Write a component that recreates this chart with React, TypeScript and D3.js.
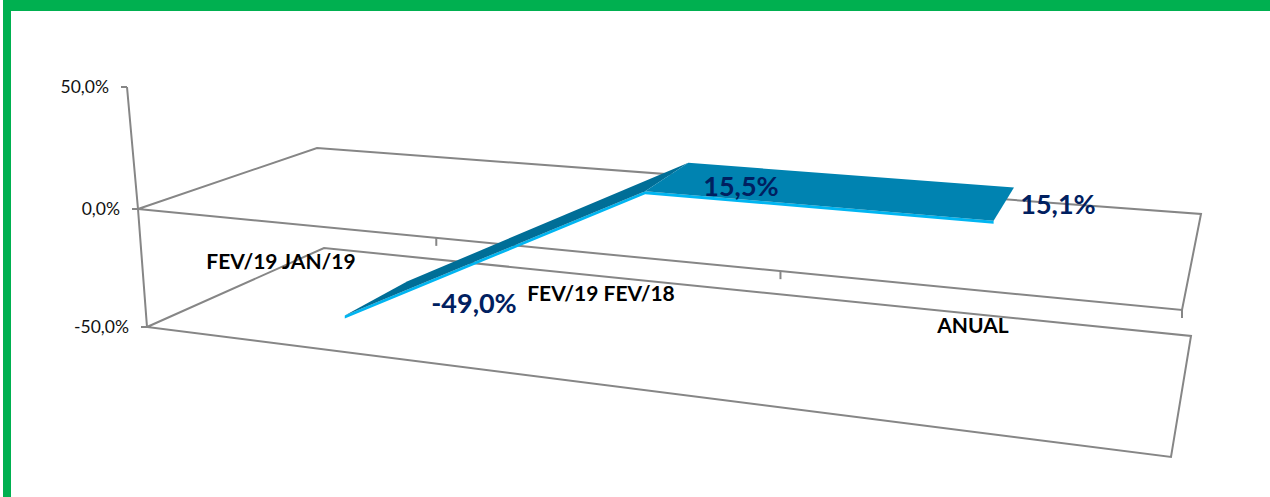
import React, { useEffect } from 'react';
import * as d3 from 'd3';

const categories = ['FEV/19 JAN/19', 'FEV/19 FEV/18', 'ANUAL'];
const values = [-49.0, 15.5, 15.1];
const valueTicks = [50, 0, -50];

const width = 1270;
const height = 497;

type Pt = [number, number];

// corners of the 0% and -50% planes as the 3D view projects them
const plane0 = { fl: [138, 209], fr: [1182, 310], bl: [317, 148], br: [1201, 214] };
const planeLow = { fl: [147, 327], fr: [1171, 457], bl: [324, 248], br: [1191, 336] };
const axisTop: Pt = [127, 87];

// ribbon sits between these two depths of the plot box
const ribbonFront = 0.4;
const ribbonBack = 0.8;
const perspective = 1.25;

const fmt = (v: number) => d3.format('.1f')(v).replace('\u2212', '-').replace('.', ',') + '%';

const mix = (a: number[], b: number[], t: number): Pt => [
  a[0] + (b[0] - a[0]) * t,
  a[1] + (b[1] - a[1]) * t,
];

const planeT = d3.scaleLinear().domain([-50, 0]).range([1, 0]);
// the ribbon does not fall on the same straight value axis in the projection
const ribbonT = d3.scaleLinear().domain([-50, 0, 16]).range([1.06, 0, -0.27]);

const xBand = d3.scaleBand().domain(categories).range([0, 1]);

const persp = (u: number) => u / (u + perspective * (1 - u));

const onPlane = (p: typeof plane0, u: number, depth: number) => {
  const f = persp(u);
  return mix(mix(p.fl, p.fr, f), mix(p.bl, p.br, f), depth);
};

function project(u: number, depth: number, value: number): Pt {
  return mix(onPlane(plane0, u, depth), onPlane(planeLow, u, depth), planeT(value));
}

function ribbonPoint(u: number, depth: number, value: number): Pt {
  const base = onPlane(plane0, u, depth);
  const low = onPlane(planeLow, u, depth);
  return [base[0], base[1] + (low[1] - base[1]) * ribbonT(value)];
}

const labelPos: Pt[] = [
  [474, 306],
  [741, 189],
  [1058, 207],
];
const categoryPos: Pt[] = [
  [281, 264],
  [601, 296],
  [973, 328],
];

export default function App() {
  useEffect(() => {
    const svg = d3.select('#chart').append('svg').attr('width', width).attr('height', height).style('display', 'block');

    svg.append('rect').attr('width', width).attr('height', height).attr('fill', '#fff');
    svg.append('rect').attr('x', 3).attr('width', 8).attr('height', height).attr('fill', '#00B050');
    svg.append('rect').attr('x', 3).attr('width', width - 3).attr('height', 11).attr('fill', '#00B050');

    const line = d3.line<Pt>();
    const frame = svg.append('g').attr('fill', 'none').attr('stroke', '#868686').attr('stroke-width', 2);

    for (const v of [-50, 0]) {
      const box: Pt[] = [
        project(0, 0, v),
        project(0, 1, v),
        project(1, 1, v),
        project(1, 0, v),
      ];
      frame.append('path').attr('d', (line(box) as string) + 'Z');
    }
    // value axis
    frame.append('path').attr('d', line([axisTop, project(0, 0, 0), project(0, 0, -50)]) as string);

    const axisPoint = (v: number): Pt => (v === 50 ? axisTop : project(0, 0, v));
    for (const v of valueTicks) {
      const p = axisPoint(v);
      frame.append('path').attr('d', line([[p[0] - 6, p[1]], p]) as string);
    }
    // category ticks
    categories.forEach((_, i) => {
      const u = (i + 1) / categories.length;
      const p = project(u, 0, 0);
      frame.append('path').attr('d', line([p, [p[0], p[1] + 8]]) as string);
    });

    const ribbon = svg.append('g');
    const uOf = (i: number) => (xBand(categories[i]) as number) + xBand.bandwidth() / 2;
    const front = values.map((v, i) => ribbonPoint(uOf(i), ribbonFront, v));
    const back = values.map((v, i) => ribbonPoint(uOf(i), ribbonBack, v));

    // light underside edge
    const under = front.map((p) => [p[0], p[1] + 3] as Pt);
    ribbon
      .append('path')
      .attr('d', (line([...front, ...under.slice().reverse()]) as string) + 'Z')
      .attr('fill', '#00B5F1');

    const faceColors = ['#006E97', '#0083B1'];
    d3.range(values.length - 1).forEach((i) => {
      ribbon
        .append('path')
        .attr('d', (line([front[i], front[i + 1], back[i + 1], back[i]]) as string) + 'Z')
        .attr('fill', faceColors[i]);
    });

    const font = 'Lato, Carlito, sans-serif';

    svg
      .append('g')
      .selectAll('text')
      .data(valueTicks)
      .enter()
      .append('text')
      .attr('x', (d) => axisPoint(d)[0] - 18)
      .attr('y', (d) => axisPoint(d)[1] + 2)
      .attr('text-anchor', 'end')
      .attr('dominant-baseline', 'middle')
      .attr('font-family', font)
      .attr('font-size', 17.5)
      .attr('fill', '#111')
      .text((d) => fmt(d));

    svg
      .append('g')
      .selectAll('text')
      .data(categories)
      .enter()
      .append('text')
      .attr('x', (_, i) => categoryPos[i][0])
      .attr('y', (_, i) => categoryPos[i][1])
      .attr('text-anchor', 'middle')
      .attr('dominant-baseline', 'middle')
      .attr('font-family', font)
      .attr('font-weight', 700)
      .attr('font-size', 21)
      .attr('fill', '#000')
      .text((d) => d);

    svg
      .append('g')
      .selectAll('text')
      .data(values)
      .enter()
      .append('text')
      .attr('x', (_, i) => labelPos[i][0])
      .attr('y', (_, i) => labelPos[i][1])
      .attr('text-anchor', 'middle')
      .attr('dominant-baseline', 'middle')
      .attr('font-family', font)
      .attr('font-weight', 700)
      .attr('font-size', 27)
      .attr('fill', '#002060')
      .text((d) => fmt(d));
  }, []);

  return <div id="chart" style={{ position: 'absolute', left: 0, top: 0 }}></div>;
}
